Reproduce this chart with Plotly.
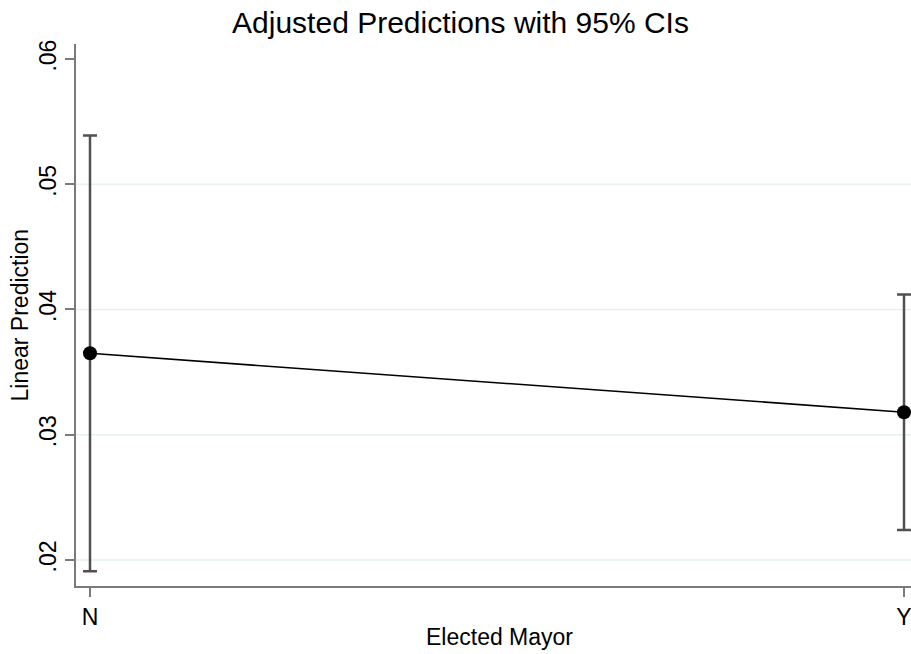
import plotly.graph_objects as go

categories = ["N", "Y"]
predictions = [0.0365, 0.0318]
ci_low = [0.0191, 0.0224]
ci_high = [0.0539, 0.0412]
y_ticks = [0.02, 0.03, 0.04, 0.05, 0.06]
y_tick_labels = [".02", ".03", ".04", ".05", ".06"]
grid_values = [0.02, 0.03, 0.04, 0.05]

x_pos = list(range(len(categories)))
err_plus = [h - p for h, p in zip(ci_high, predictions)]
err_minus = [p - l for p, l in zip(predictions, ci_low)]

FONT = "Liberation Sans, Arial, Helvetica, sans-serif"

fig = go.Figure()
fig.add_trace(go.Scatter(
    x=x_pos, y=predictions, mode="lines+markers",
    line=dict(color="black", width=1.6),
    marker=dict(color="black", size=14),
    error_y=dict(type="data", symmetric=False, array=err_plus, arrayminus=err_minus,
                 color="#505050", thickness=2.5, width=7),
    showlegend=False, cliponaxis=False,
))

for g in grid_values:
    fig.add_hline(y=g, line=dict(color="#e6eff1", width=1.5), layer="below")

fig.update_layout(
    width=911, height=654,
    margin=dict(l=76, r=0, t=44, b=68),
    paper_bgcolor="white", plot_bgcolor="white",
    font=dict(family=FONT, color="black"),
    title=dict(text="Adjusted Predictions with 95% CIs", x=0.5055, xref="container",
               xanchor="center", y=0.965, yanchor="middle", yref="container",
               font=dict(size=30, family=FONT, color="black")),
    xaxis=dict(range=[-0.0172, 1.0086], tickvals=x_pos, ticktext=categories,
               showgrid=False, zeroline=False, showline=True, linecolor="#7a7a7a", linewidth=2,
               ticks="outside", ticklen=9, tickwidth=1.5, tickcolor="#7a7a7a",
               ticklabeloverflow="allow",
               tickfont=dict(size=23, family=FONT, color="black")),
    yaxis=dict(range=[0.01792, 0.0612], tickvals=y_ticks, ticktext=y_tick_labels,
               showgrid=False, zeroline=False, showline=True, linecolor="#7a7a7a", linewidth=2,
               ticks="outside", ticklen=9, tickwidth=1.5, tickcolor="#7a7a7a", tickangle=-90,
               tickfont=dict(size=23, family=FONT, color="black")),
    annotations=[
        dict(text="Elected Mayor", xref="paper", yref="paper", x=0.5066, y=-0.094, yanchor="middle",
             xanchor="center", showarrow=False, font=dict(size=23, family=FONT, color="black")),
        dict(text="Linear Prediction", xref="paper", yref="paper", x=-0.0665, y=0.5, textangle=-90,
             xanchor="center", yanchor="middle", showarrow=False,
             font=dict(size=23, family=FONT, color="black")),
    ],
)

fig.write_html("out.html")
